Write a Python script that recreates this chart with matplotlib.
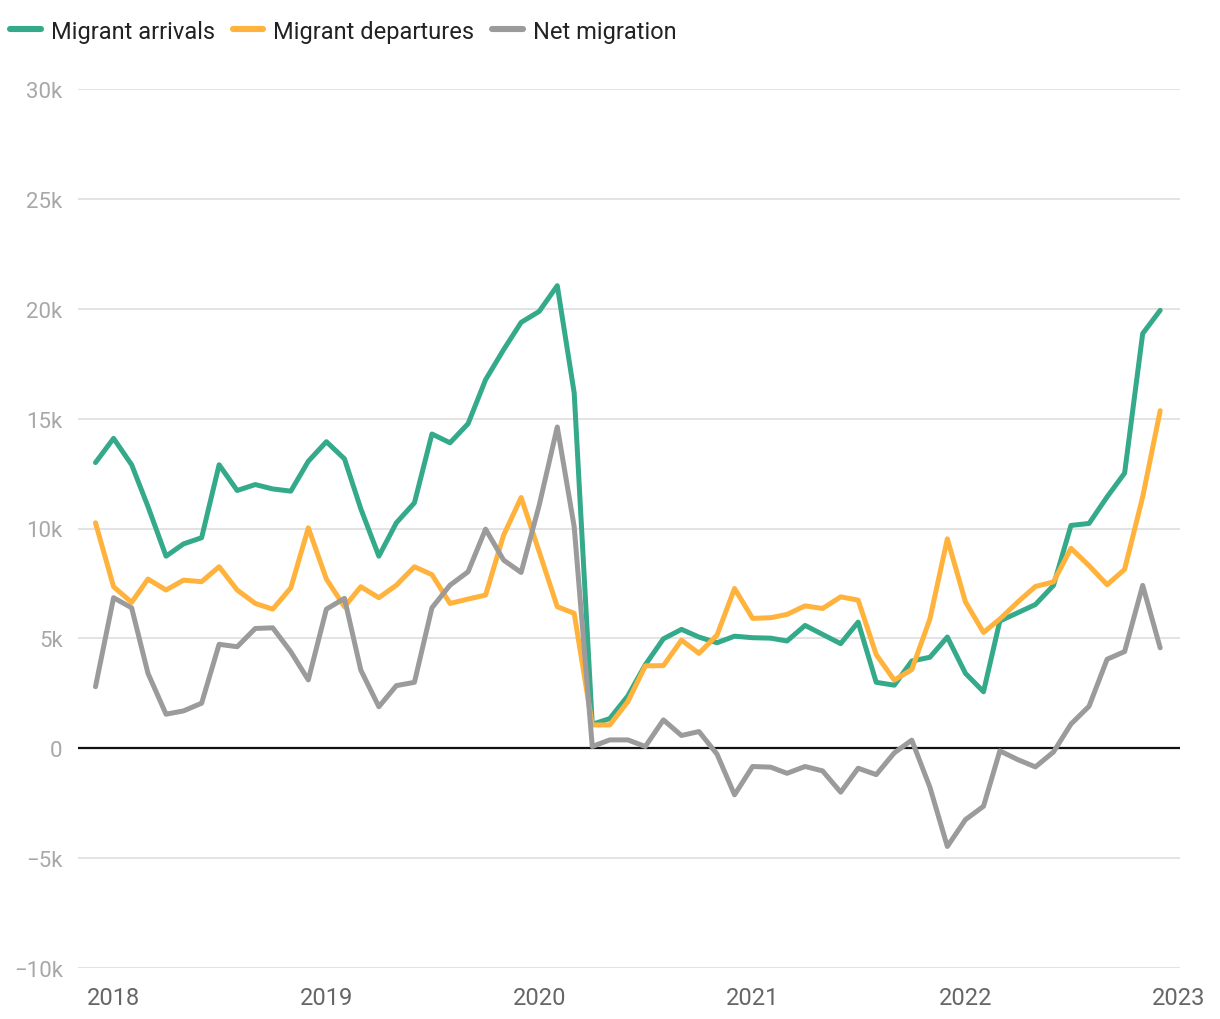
import matplotlib.pyplot as plt
import matplotlib.dates as mdates
import matplotlib.ticker as mticker
import pandas as pd

plt.rcParams['font.family'] = ['Roboto', 'DejaVu Sans']

# monthly values, Dec 2017 .. Dec 2022 (thousands)
months = pd.date_range("2017-12-01", periods=61, freq="MS")

arrivals = [13.0, 14.1, 12.9, 11.0, 8.74, 9.3, 9.58, 12.9, 11.73, 12.0, 11.8, 11.7,
            13.06, 13.95, 13.17, 10.9, 8.74, 10.26, 11.17, 14.3, 13.9, 14.77, 16.77, 18.14,
            19.38, 19.88, 21.05, 16.17, 1.09, 1.35, 2.38, 3.8, 4.98, 5.41, 5.06, 4.8,
            5.1, 5.03, 5.01, 4.88, 5.59, 5.18, 4.76, 5.74, 3.0, 2.87, 3.97, 4.14,
            5.06, 3.41, 2.57, 5.79, 6.17, 6.54, 7.41, 10.14, 10.23, 11.44, 12.52, 18.87,
            19.93]
departures = [10.26, 7.35, 6.64, 7.7, 7.2, 7.65, 7.58, 8.26, 7.2, 6.59, 6.33, 7.3,
              10.03, 7.7, 6.44, 7.35, 6.85, 7.42, 8.26, 7.9, 6.59, 6.79, 6.97, 9.7,
              11.41, 8.94, 6.44, 6.14, 1.06, 1.06, 2.12, 3.75, 3.76, 4.92, 4.32, 5.15,
              7.27, 5.91, 5.94, 6.09, 6.48, 6.36, 6.89, 6.74, 4.26, 3.1, 3.58, 5.88,
              9.53, 6.66, 5.27, 5.88, 6.66, 7.36, 7.57, 9.1, 8.31, 7.44, 8.14, 11.44,
              15.36]
net = [2.8, 6.85, 6.39, 3.41, 1.55, 1.7, 2.05, 4.73, 4.62, 5.45, 5.48, 4.39,
       3.11, 6.33, 6.82, 3.56, 1.89, 2.85, 3.0, 6.39, 7.42, 8.03, 9.97, 8.56,
       8.0, 11.06, 14.62, 10.08, 0.08, 0.38, 0.38, 0.08, 1.29, 0.58, 0.76, -0.27,
       -2.12, -0.83, -0.86, -1.14, -0.83, -1.03, -2.0, -0.91, -1.2, -0.21, 0.37, -1.77,
       -4.47, -3.25, -2.64, -0.12, -0.52, -0.85, -0.17, 1.1, 1.91, 4.05, 4.4, 7.41,
       4.57]

series = [("Migrant arrivals", arrivals, "#35aa8b"),
          ("Migrant departures", departures, "#ffb23c"),
          ("Net migration", net, "#9b9b9b")]

fig = plt.figure(figsize=(12.2, 10.2), dpi=100)
ax = fig.add_axes([78 / 1220, 1 - 969 / 1020, 1102 / 1220, 879 / 1020])

for name, vals, col in series:
    ax.plot(months, [v * 1000 for v in vals], color=col, lw=3.6, label=name,
            solid_joinstyle="round", solid_capstyle="round", zorder=3)

ax.axhline(0, color="#111111", lw=1.6, zorder=2)

ax.set_ylim(-10000, 30000)
ax.set_xlim(pd.Timestamp("2017-11-01"), pd.Timestamp("2023-01-04"))
ax.set_yticks(range(-10000, 30001, 5000))
ax.yaxis.set_major_formatter(mticker.FuncFormatter(
    lambda v, p: "0" if v == 0 else ("\u2212" if v < 0 else "") + f"{abs(int(v)) // 1000}k"))
ax.xaxis.set_major_locator(mdates.YearLocator())
ax.xaxis.set_major_formatter(mdates.DateFormatter("%Y"))

ax.grid(axis="y", color="#e3e3e3", lw=1.4, zorder=0)
for s in ax.spines.values():
    s.set_visible(False)
ax.tick_params(axis="y", length=0, pad=11, labelsize=16, labelcolor="#a8a8a8")
ax.tick_params(axis="x", length=0, pad=13, labelsize=17, labelcolor="#666666")

leg = fig.legend(loc="upper left", bbox_to_anchor=(-0.005, 0.996), ncol=3, frameon=False,
                 fontsize=17, handlelength=1.3, handletextpad=0.42, columnspacing=0.75,
                 borderaxespad=0.3)
for h in leg.get_lines():
    h.set_linewidth(4.4)
for t in leg.get_texts():
    t.set_color("#222222")

fig.savefig("out.png", dpi=100)
